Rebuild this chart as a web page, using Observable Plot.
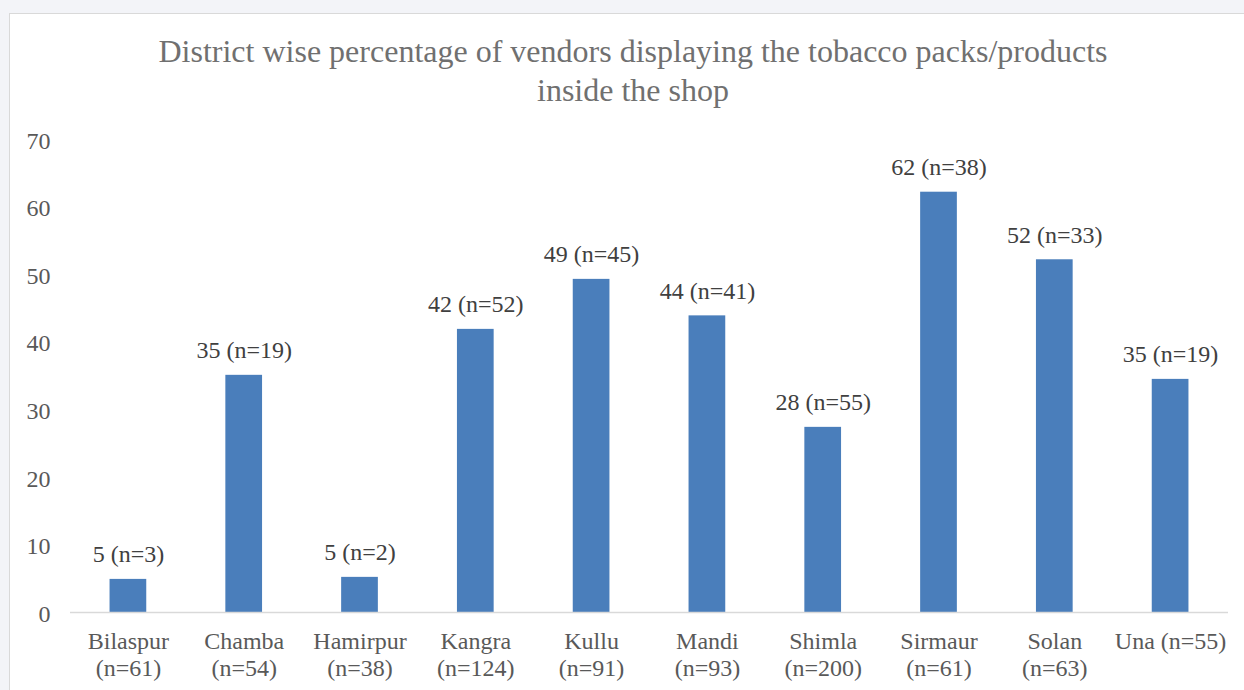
<!DOCTYPE html>
<html>
<head>
<meta charset="utf-8">
<script src="https://cdn.jsdelivr.net/npm/d3@7"></script>
<script src="https://cdn.jsdelivr.net/npm/@observablehq/plot@0.6"></script>
<style>
  html, body { margin: 0; padding: 0; }
  body { width: 1244px; height: 690px; background: #f3f4f8; position: relative; overflow: hidden; font-family: "Liberation Serif", "Times New Roman", serif; }
  #panel { position: absolute; left: 9px; top: 13px; width: 1250px; height: 700px; background: #fff; border: 1px solid #d9d9d9; }
  #title { position: absolute; left: 0; top: 32px; width: 1266px; text-align: center; color: #707070; font-size: 32px; line-height: 39px; }
  #chart { position: absolute; left: 0; top: 0; }
</style>
</head>
<body>
<div id="panel"></div>
<div id="chart"></div>
<div id="title">District wise percentage of vendors displaying the tobacco packs/products<br>inside the shop</div>
<script>
const districts = ["Bilaspur", "Chamba", "Hamirpur", "Kangra", "Kullu", "Mandi", "Shimla", "Sirmaur", "Solan", "Una"];
const districtN = [61, 54, 38, 124, 91, 93, 200, 61, 63, 55];
const percent = [4.9, 35.1, 5.2, 41.9, 49.3, 43.9, 27.4, 62.2, 52.2, 34.5];
const percentLabel = [5, 35, 5, 42, 49, 44, 28, 62, 52, 35];
const vendorN = [3, 19, 2, 52, 45, 41, 55, 38, 33, 19];
const yTicks = [0, 10, 20, 30, 40, 50, 60, 70];

const tickLabel = d => {
  const i = districts.indexOf(d);
  return d === "Una" ? `${d} (n=${districtN[i]})` : `${d}\n(n=${districtN[i]})`;
};

const data = districts.map((d, i) => ({
  district: d,
  value: percent[i],
  label: `${percentLabel[i]} (n=${vendorN[i]})`
}));

const font = "'Liberation Serif', 'Times New Roman', serif";

const chart = Plot.plot({
  width: 1244,
  height: 690,
  marginTop: 139,
  marginBottom: 78,
  marginLeft: 70,
  marginRight: 16,
  style: { fontFamily: font, fontSize: "24px", color: "#595959", background: "transparent", overflow: "visible" },
  x: { domain: districts, paddingInner: 0.683, paddingOuter: 0.3415, round: false, label: null },
  y: { domain: [0, 70], ticks: yTicks, label: null },
  marks: [
    Plot.barY(data, { x: "district", y: "value", fill: "#4a7ebb" }),
    Plot.ruleY([0], { stroke: "#d9d9d9", strokeWidth: 1.5 }),
    Plot.axisY({ ticks: yTicks, tickSize: 0, tickPadding: 20, fontSize: 24, fill: "#595959", label: null, dy: 1.5 }),
    Plot.axisX({ tickSize: 0, tickPadding: 17, fontSize: 24, fill: "#595959", tickFormat: tickLabel, lineHeight: 1.125, label: null }),
    Plot.text(data, { x: "district", y: "value", text: "label", lineAnchor: "bottom", dy: -17, fontSize: 24, fill: "#404040" })
  ]
});
document.getElementById("chart").appendChild(chart);
</script>
</body>
</html>
